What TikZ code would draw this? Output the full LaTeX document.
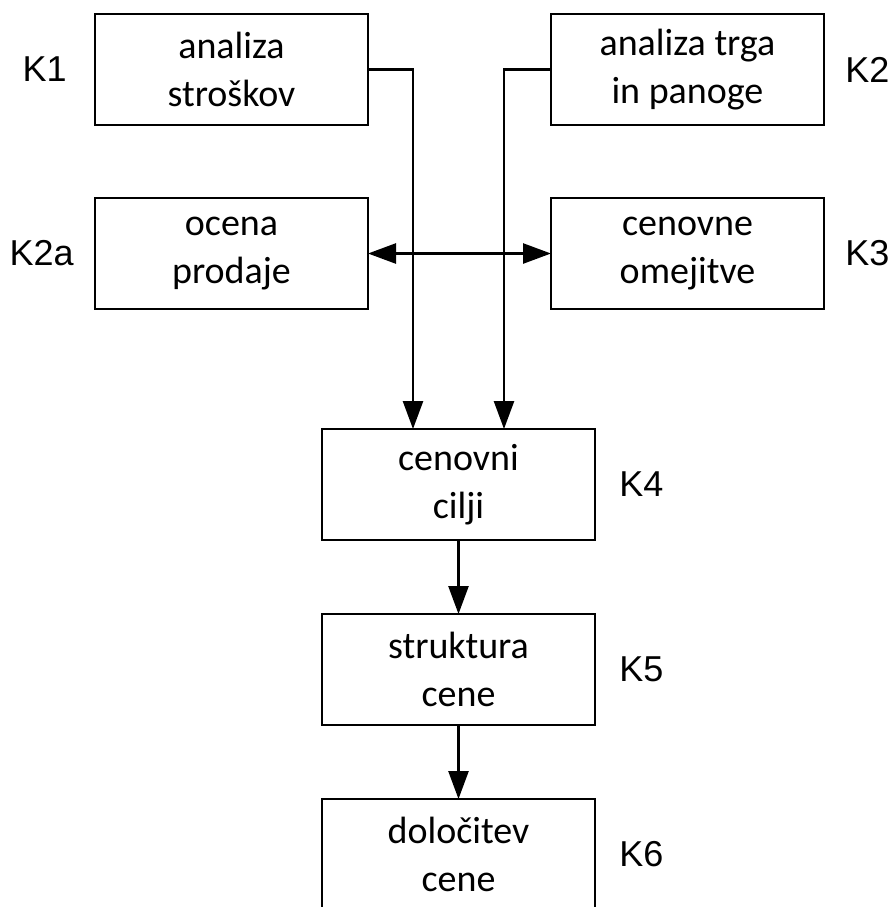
\documentclass[tikz,border=0pt]{standalone}
\usepackage{fontspec}
\setmainfont{Carlito}
\newfontfamily\oznakafont{Liberation Sans}
\usetikzlibrary{arrows.meta,positioning}

\begin{document}
\begin{tikzpicture}[
  x=0.5pt,y=-0.5pt,
  font=\fontsize{19pt}{24pt}\selectfont,
  >={Triangle[length=14pt,width=10pt]},
  line width=1.3pt,
  korak/.style={draw,minimum width=136.5pt,minimum height=55.5pt,align=center,outer sep=0pt,inner sep=0pt},
  oznaka/.style={font=\oznakafont\fontsize{18pt}{22pt}\selectfont,inner sep=0pt},
  tok/.style={->},
  dvotok/.style={<->}
]
\useasboundingbox (0,0) rectangle (893,907);

% ===== Analize =====
\node[korak] (stroski) at (231.5,69.5) {analiza\\stroškov};
\node[korak,right=91.5pt of stroski] (trg) {analiza trga\\in panoge};
\node[korak,below=36.5pt of stroski] (prodaja) {ocena\\prodaje};
\node[korak,below=36.5pt of trg] (omejitve) {cenovne\\omejitve};

% ===== Cena =====
\node[korak] (cilji) at (458.5,484.5) {cenovni\\cilji};
\node[korak,below=37pt of cilji] (struktura) {struktura\\cene};
\node[korak,below=37pt of struktura] (dolocitev) {določitev\\cene};

% ===== Oznake =====
\node[oznaka,left=13.5pt of stroski] (k1) {K1};
\node[oznaka,right=10pt of trg] (k2) {K2};
\node[oznaka,left=10pt of prodaja] (k2a) {K2a};
\node[oznaka,right=10pt of omejitve] (k3) {K3};
\node[oznaka,right=11.5pt of cilji] (k4) {K4};
\node[oznaka,right=11.5pt of struktura] (k5) {K5};
\node[oznaka,right=11.5pt of dolocitev] (k6) {K6};

% ===== Povezave =====
\draw[tok] (stroski.east) -| ([xshift=-22.75pt]cilji.north);
\draw[tok] (trg.west) -| ([xshift=22.75pt]cilji.north);
\draw[dvotok] (prodaja.east) -- (omejitve.west);
\draw[tok] (cilji) -- (struktura);
\draw[tok] (struktura) -- (dolocitev);

\end{tikzpicture}
\end{document}
